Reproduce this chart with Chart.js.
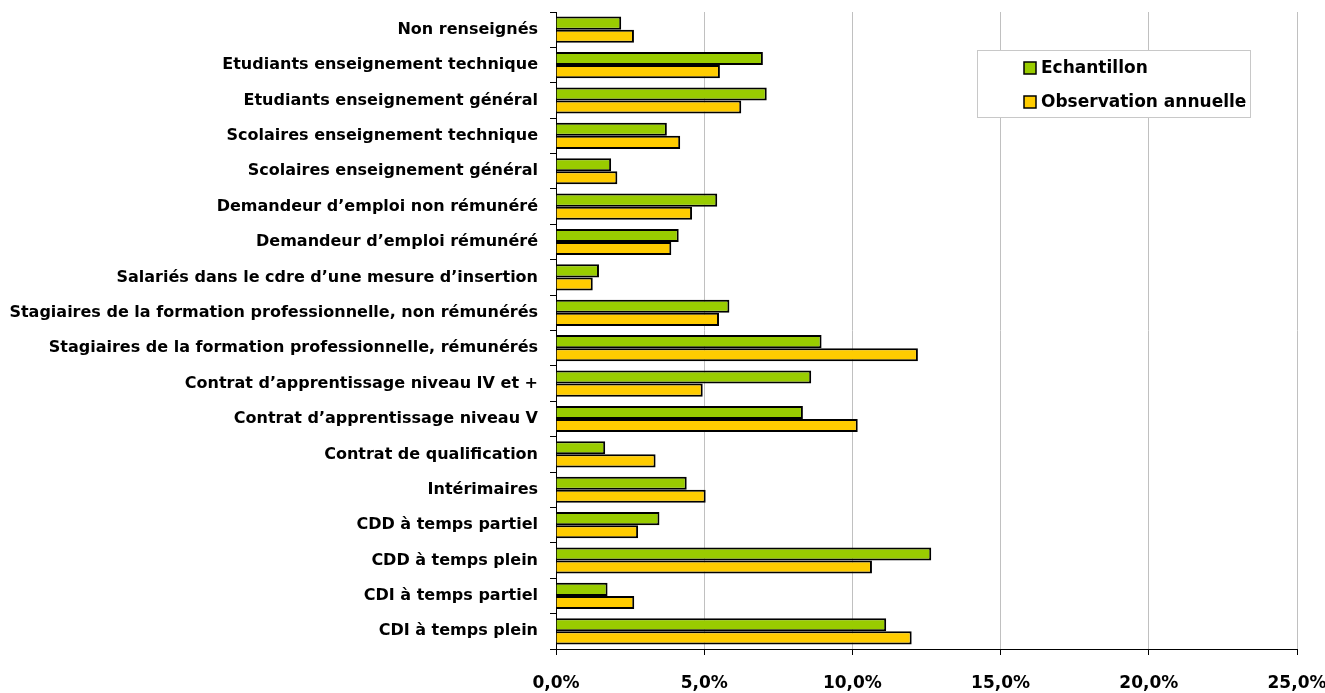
<!DOCTYPE html>
<html>
<head>
<meta charset="utf-8">
<script src="https://cdn.jsdelivr.net/npm/chart.js@4"></script>
<style>
  html, body { margin: 0; padding: 0; background: #fff; }
  #wrap { width: 1325px; height: 693px; }
</style>
</head>
<body>
<div id="wrap"><canvas id="c" width="1325" height="693"></canvas></div>
<script>
const categories = [
  'Non renseignés',
  'Etudiants enseignement technique',
  'Etudiants enseignement général',
  'Scolaires enseignement technique',
  'Scolaires enseignement général',
  'Demandeur d\u2019emploi non rémunéré',
  'Demandeur d\u2019emploi rémunéré',
  'Salariés dans le cdre d\u2019une mesure d\u2019insertion',
  'Stagiaires de la formation professionnelle, non rémunérés',
  'Stagiaires de la formation professionnelle, rémunérés',
  'Contrat d\u2019apprentissage niveau IV et +',
  'Contrat d\u2019apprentissage niveau V',
  'Contrat de qualification',
  'Intérimaires',
  'CDD à temps partiel',
  'CDD à temps plein',
  'CDI à temps partiel',
  'CDI à temps plein'
]

// values in %
const echantillon = [2.2, 6.98, 7.11, 3.74, 1.86, 5.44, 4.14, 1.45, 5.85, 8.96, 8.61, 8.33, 1.66, 4.41, 3.49, 12.66, 1.74, 11.14]
const observation = [2.63, 5.53, 6.25, 4.19, 2.07, 4.59, 3.89, 1.24, 5.5, 12.21, 4.95, 10.18, 3.36, 5.05, 2.77, 10.66, 2.64, 12.0]

const seriesNames = ['Echantillon', 'Observation annuelle']
const seriesColors = ['#99CC00', '#FFCC00']

const FONT = '"DejaVu Sans", sans-serif'

// legend box drawn inside the plot, top right
const boxLegend = {
  id: 'boxLegend',
  afterDraw(chart) {
    const ctx = chart.ctx
    const x = 977, y = 50, w = 273, h = 67
    ctx.save()
    ctx.fillStyle = '#fff'
    ctx.fillRect(x, y, w, h)
    ctx.strokeStyle = '#c8c8c8'
    ctx.lineWidth = 1
    ctx.strokeRect(x + 0.5, y + 0.5, w, h)
    ctx.font = 'bold 17px ' + FONT
    ctx.textBaseline = 'middle'
    chart.data.datasets.forEach((ds, i) => {
      const cy = y + 18 + i * 34
      ctx.fillStyle = ds.backgroundColor
      ctx.fillRect(1024, cy - 6, 12, 12)
      ctx.strokeStyle = '#000'
      ctx.lineWidth = 1.5
      ctx.strokeRect(1024, cy - 6, 12, 12)
      ctx.fillStyle = '#000'
      ctx.fillText(ds.label, 1041, cy + 1)
    })
    ctx.restore()
  }
}

new Chart(document.getElementById('c'), {
  type: 'bar',
  data: {
    labels: categories,
    datasets: [
      { label: seriesNames[0], data: echantillon, backgroundColor: seriesColors[0], borderColor: '#000', borderWidth: 2 },
      { label: seriesNames[1], data: observation, backgroundColor: seriesColors[1], borderColor: '#000', borderWidth: 2 }
    ]
  },
  options: {
    indexAxis: 'y',
    responsive: false,
    animation: false,
    categoryPercentage: 0.74,
    barPercentage: 1,
    layout: { padding: { top: 12, right: 28, left: 0, bottom: 0 } },
    plugins: {
      legend: { display: false },
      tooltip: { enabled: false }
    },
    scales: {
      x: {
        min: 0,
        max: 25,
        ticks: {
          stepSize: 5,
          color: '#000',
          padding: 18,
          font: { family: FONT, size: 17, weight: 'bold' },
          callback: v => v.toFixed(1).replace('.', ',') + '%'
        },
        grid: { color: '#c0c0c0', tickColor: '#000', tickLength: 6, lineWidth: 1 },
        border: { color: '#000', width: 1 },
        afterFit(scale) {
          scale.height = 44
          scale.paddingLeft = 0
          scale.paddingRight = 0
        }
      },
      y: {
        ticks: {
          color: '#000',
          padding: 12,
          autoSkip: false,
          font: { family: FONT, size: 16, weight: 'bold' }
        },
        grid: { offset: true, drawOnChartArea: false, tickColor: '#000', tickLength: 6 },
        border: { color: '#000', width: 1 },
        afterFit(scale) {
          scale.width = 556
          scale.paddingTop = 0
          scale.paddingBottom = 0
        }
      }
    }
  },
  plugins: [boxLegend]
})
</script>
</body>
</html>
